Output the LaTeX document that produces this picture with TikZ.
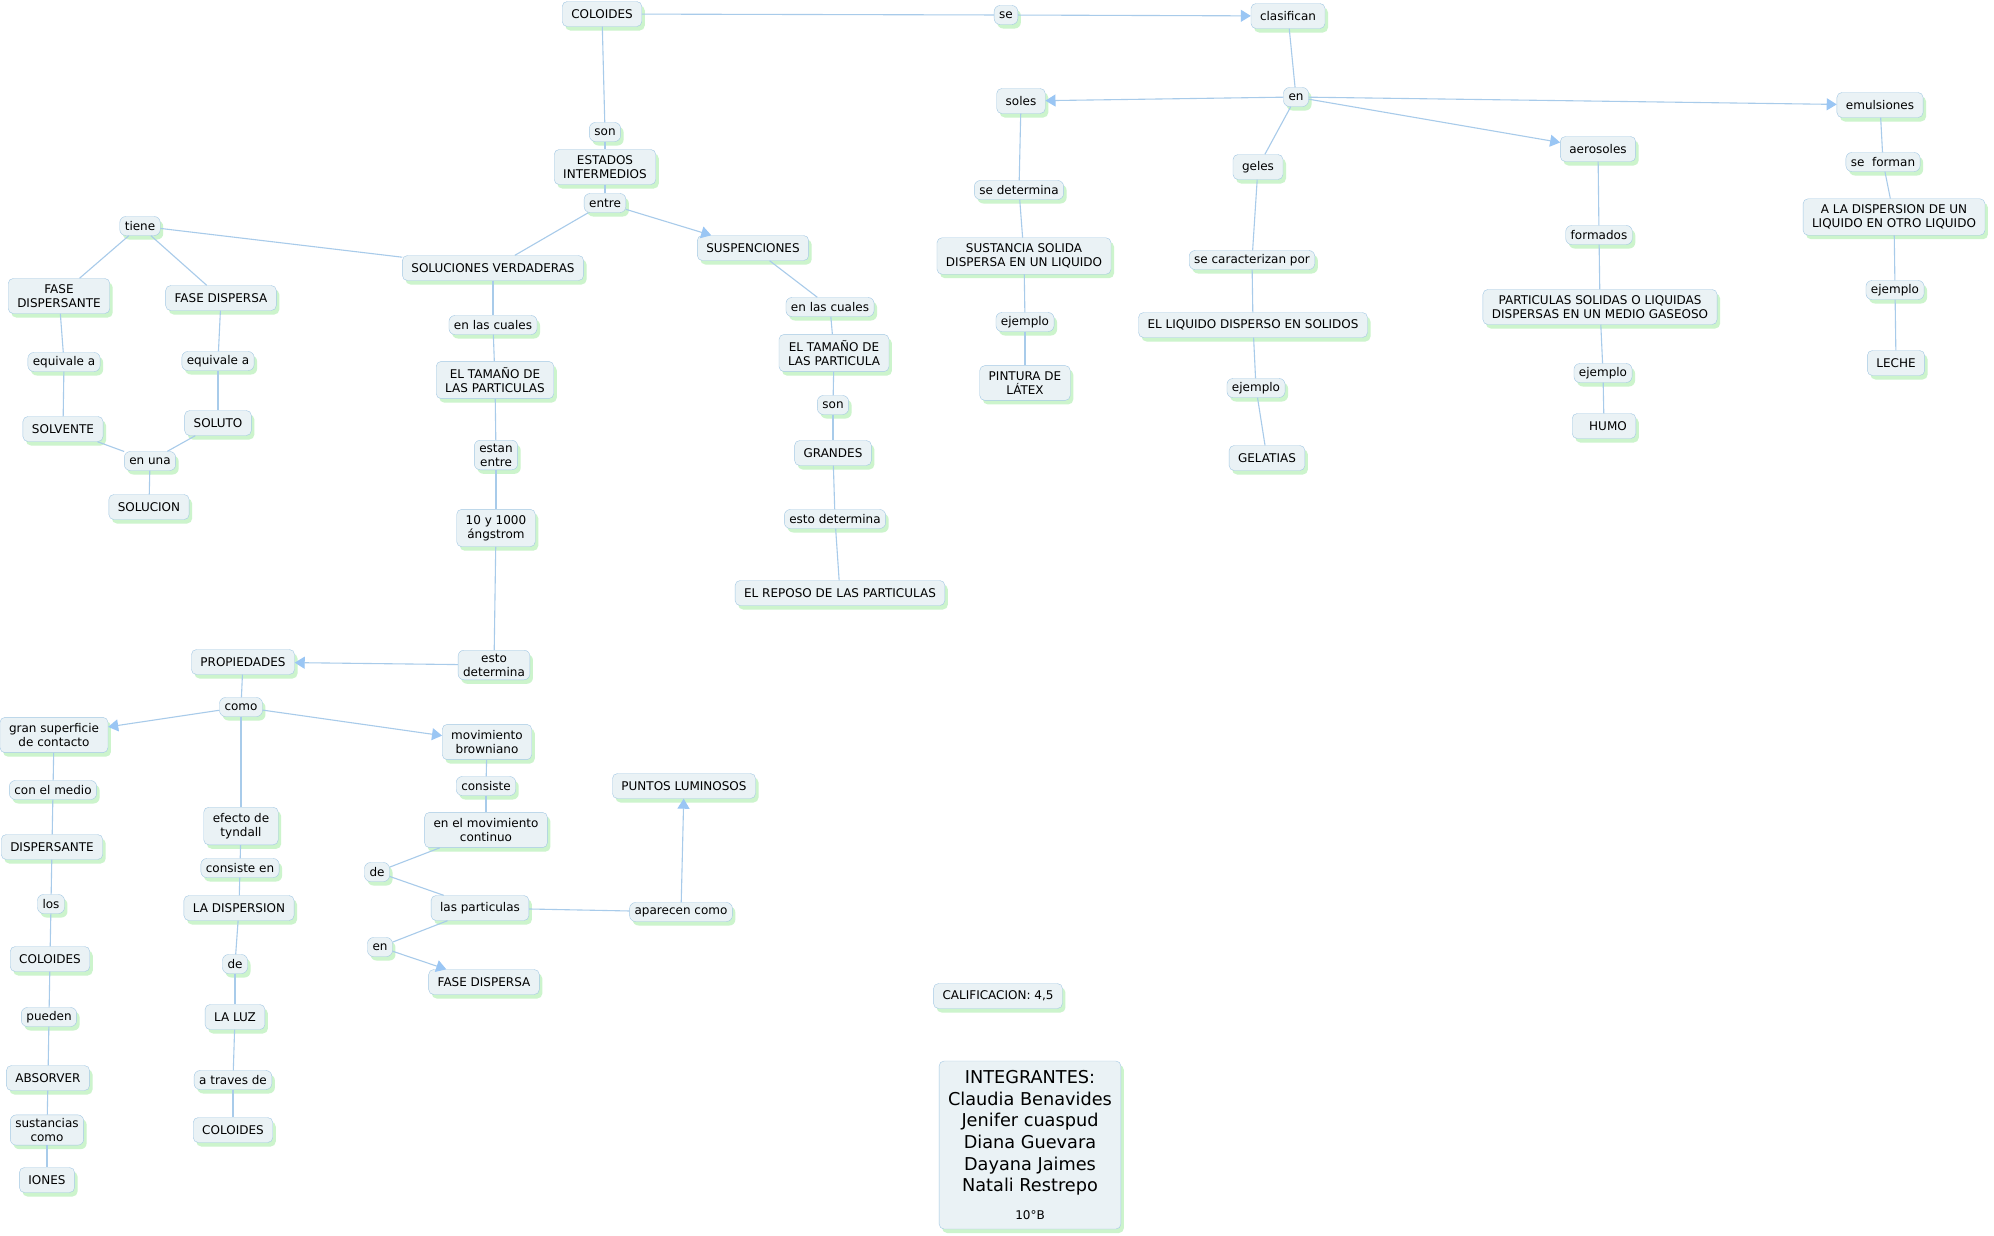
\documentclass[tikz,border=0pt]{standalone}
\usepackage{fontspec}
\setmainfont{DejaVu Sans}
\usepackage{tikz}
\usetikzlibrary{arrows.meta,shadows}
\definecolor{cmapfill}{HTML}{EAF2F5}
\definecolor{cmapdraw}{HTML}{A3C8E4}
\definecolor{cmapshadow}{HTML}{CCF4CC}
\definecolor{cmapline}{HTML}{A8CBEA}
\definecolor{cmaptip}{HTML}{9AC6F4}

\begin{document}
\begin{tikzpicture}[
  x=1pt, y=-1pt,
  font=\fontsize{12}{14}\selectfont,
  concept/.style={draw=cmapdraw, fill=cmapfill, rounded corners=5pt, inner xsep=9pt, inner ysep=6pt, minimum height=25pt, align=center,
                  drop shadow={shadow xshift=3pt, shadow yshift=-4pt, fill=cmapshadow, opacity=1}},
  phrase/.style ={draw=cmapdraw, fill=cmapfill, rounded corners=6pt, inner xsep=5pt, inner ysep=3.5pt, minimum height=19pt, align=center,
                  drop shadow={shadow xshift=3pt, shadow yshift=-4pt, fill=cmapshadow, opacity=1}},
  link/.style   ={draw=cmapline, line width=1.1pt},
  arr/.style    ={link, -{Triangle[length=10pt, width=12pt, color=cmaptip]}},
]
  \path[use as bounding box, fill=white] (0,0) rectangle (1994,1235);

  % top branch
  \node[concept] (col)      at (602,14)   {COLOIDES};
  \node[phrase]  (se)       at (1006,15)  {se};
  \node[concept] (clas)     at (1288,16)  {clasifican};
  \node[phrase]  (son1)     at (605,132)  {son};
  \node[concept] (est)      at (605,167)  {ESTADOS\\INTERMEDIOS};
  \node[phrase]  (entre)    at (605,203)  {entre};
  \node[concept] (solv)     at (493,268)  {SOLUCIONES VERDADERAS};
  \node[concept] (susp)     at (753,248)  {SUSPENCIONES};

  % soluciones verdaderas
  \node[phrase]  (tiene)    at (140,226)  {tiene};
  \node[concept] (fdte)     at (59,296)   {FASE\\DISPERSANTE};
  \node[concept] (fdsa)     at (221,298)  {FASE DISPERSA};
  \node[phrase]  (eqa1)     at (64,362)   {equivale a};
  \node[phrase]  (eqa2)     at (218,361)  {equivale a};
  \node[concept] (solvente) at (63,429)   {SOLVENTE};
  \node[concept] (soluto)   at (218,423)  {SOLUTO};
  \node[phrase]  (enuna)    at (150,461)  {en una};
  \node[concept] (solucion) at (149,507)  {SOLUCION};
  \node[phrase]  (cuales1)  at (493,325)  {en las cuales};
  \node[concept] (tamsv)    at (495,380)  {EL TAMAÑO DE\\LAS PARTICULAS};
  \node[phrase]  (estan)    at (496,455)  {estan\\entre};
  \node[concept] (rango)    at (496,528)  {10 y 1000\\ángstrom};
  \node[phrase]  (det1)     at (494,665)  {esto\\determina};

  % suspenciones
  \node[phrase]  (cuales2)  at (830,307)  {en las cuales};
  \node[concept] (tamsu)    at (834,353)  {EL TAMAÑO DE\\LAS PARTICULA};
  \node[phrase]  (son2)     at (833,405)  {son};
  \node[concept] (grandes)  at (833,453)  {GRANDES};
  \node[phrase]  (det2)     at (835,519)  {esto determina};
  \node[concept] (reposo)   at (840,593)  {EL REPOSO DE LAS PARTICULAS};

  % propiedades
  \node[concept] (prop)     at (243,662)  {PROPIEDADES};
  \node[phrase]  (como)     at (241,707)  {como};
  \node[concept] (gran)     at (54,735)   {gran superficie\\de contacto};
  \node[concept] (tynd)     at (241,826)  {efecto de\\tyndall};
  \node[concept] (brown)    at (487,742)  {movimiento\\browniano};
  \node[phrase]  (medio)    at (53,790)   {con el medio};
  \node[concept] (dispte)   at (52,847)   {DISPERSANTE};
  \node[phrase]  (los)      at (51,904)   {los};
  \node[concept] (colb1)    at (50,959)   {COLOIDES};
  \node[phrase]  (pueden)   at (49,1017)  {pueden};
  \node[concept] (absor)    at (48,1078)  {ABSORVER};
  \node[phrase]  (sustc)    at (47,1130)  {sustancias\\como};
  \node[concept] (iones)    at (47,1180)  {IONES};
  \node[phrase]  (consen)   at (240,868)  {consiste en};
  \node[concept] (ladisp)   at (239,908)  {LA DISPERSION};
  \node[phrase]  (de2)      at (235,964)  {de};
  \node[concept] (luz)      at (235,1017) {LA LUZ};
  \node[phrase]  (traves)   at (233,1080) {a traves de};
  \node[concept] (colb2)    at (233,1130) {COLOIDES};
  \node[phrase]  (consiste) at (486,786)  {consiste};
  \node[concept] (movcont)  at (486,830)  {en el movimiento\\continuo};
  \node[phrase]  (de1)      at (377,872)  {de};
  \node[concept] (parts)    at (480,908)  {las particulas};
  \node[phrase]  (en2)      at (380,947)  {en};
  \node[concept] (fdsb)     at (484,982)  {FASE DISPERSA};
  \node[phrase]  (aparecen) at (681,912)  {aparecen como};
  \node[concept] (puntos)   at (684,786)  {PUNTOS LUMINOSOS};

  % clasificacion
  \node[phrase]  (en1)      at (1296,97)  {en};
  \node[concept] (soles)    at (1021,101) {soles};
  \node[concept] (geles)    at (1258,167) {geles};
  \node[concept] (aero)     at (1598,149) {aerosoles};
  \node[concept] (emul)     at (1880,105) {emulsiones};
  \node[phrase]  (sedet)    at (1019,190) {se determina};
  \node[concept] (sust)     at (1024,256) {SUSTANCIA SOLIDA\\DISPERSA EN UN LIQUIDO};
  \node[phrase]  (ej1)      at (1025,322) {ejemplo};
  \node[concept] (pint)     at (1025,383) {PINTURA DE\\LÁTEX};
  \node[phrase]  (secar)    at (1252,260) {se caracterizan por};
  \node[concept] (liq)      at (1253,325) {EL LIQUIDO DISPERSO EN SOLIDOS};
  \node[phrase]  (ej2)      at (1256,388) {ejemplo};
  \node[concept] (gelat)    at (1267,458) {GELATIAS};
  \node[phrase]  (formados) at (1599,235) {formados};
  \node[concept] (partsol)  at (1600,307) {PARTICULAS SOLIDAS O LIQUIDAS\\DISPERSAS EN UN MEDIO GASEOSO};
  \node[phrase]  (ej3)      at (1603,373) {ejemplo};
  \node[concept] (humo)     at (1604,426) {\hspace{8pt}HUMO};
  \node[phrase]  (seform)   at (1883,162) {se\ \ forman};
  \node[concept] (aladisp)  at (1894,217) {A LA DISPERSION DE UN\\LIQUIDO EN OTRO LIQUIDO};
  \node[phrase]  (ej4)      at (1895,290) {ejemplo};
  \node[concept] (leche)    at (1896,363) {LECHE};

  \node[concept] (calif)    at (998,996)  {CALIFICACION: 4,5};
  \node[concept, minimum width=181pt, minimum height=168pt, font=\fontsize{17.7}{21.7}\selectfont] (integ) at (1030,1145)
    {INTEGRANTES:\\Claudia Benavides\\Jenifer cuaspud\\Diana Guevara\\Dayana Jaimes\\Natali Restrepo\\[6pt]{\fontsize{12}{14}\selectfont 10°B}};

  \draw[link] (col) -- (se);
  \draw[arr]  (se) -- (clas);
  \draw[link] (col) -- (son1);
  \draw[link] (son1) -- (est);
  \draw[link] (est) -- (entre);
  \draw[link] (entre) -- (solv);
  \draw[arr]  (entre) -- (susp);

  \draw[link] (solv) -- (tiene);
  \draw[link] (tiene) -- (fdte);
  \draw[link] (tiene) -- (fdsa);
  \draw[link] (fdte) -- (eqa1);
  \draw[link] (eqa1) -- (solvente);
  \draw[link] (fdsa) -- (eqa2);
  \draw[link] (eqa2) -- (soluto);
  \draw[link] (solvente) -- (enuna);
  \draw[link] (soluto) -- (enuna);
  \draw[link] (enuna) -- (solucion);
  \draw[link] (solv) -- (cuales1);
  \draw[link] (cuales1) -- (tamsv);
  \draw[link] (tamsv) -- (estan);
  \draw[link] (estan) -- (rango);
  \draw[link] (rango) -- (det1);
  \draw[arr]  (det1) -- (prop);

  \draw[link] (susp) -- (cuales2);
  \draw[link] (cuales2) -- (tamsu);
  \draw[link] (tamsu) -- (son2);
  \draw[link] (son2) -- (grandes);
  \draw[link] (grandes) -- (det2);
  \draw[link] (det2) -- (reposo);

  \draw[link] (prop) -- (como);
  \draw[arr]  (como) -- (gran);
  \draw[link] (como) -- (tynd);
  \draw[arr]  (como) -- (brown);
  \draw[link] (gran) -- (medio);
  \draw[link] (medio) -- (dispte);
  \draw[link] (dispte) -- (los);
  \draw[link] (los) -- (colb1);
  \draw[link] (colb1) -- (pueden);
  \draw[link] (pueden) -- (absor);
  \draw[link] (absor) -- (sustc);
  \draw[link] (sustc) -- (iones);
  \draw[link] (tynd) -- (consen);
  \draw[link] (consen) -- (ladisp);
  \draw[link] (ladisp) -- (de2);
  \draw[link] (de2) -- (luz);
  \draw[link] (luz) -- (traves);
  \draw[link] (traves) -- (colb2);
  \draw[link] (brown) -- (consiste);
  \draw[link] (consiste) -- (movcont);
  \draw[link] (movcont) -- (de1);
  \draw[link] (de1) -- (parts);
  \draw[link] (parts) -- (en2);
  \draw[arr]  (en2) -- (fdsb);
  \draw[link] (parts) -- (aparecen);
  \draw[arr]  (aparecen) -- (puntos);

  \draw[link] (clas) -- (en1);
  \draw[arr]  (en1) -- (soles);
  \draw[link] (en1) -- (geles);
  \draw[arr]  (en1) -- (aero);
  \draw[arr]  (en1) -- (emul);
  \draw[link] (soles) -- (sedet);
  \draw[link] (sedet) -- (sust);
  \draw[link] (sust) -- (ej1);
  \draw[link] (ej1) -- (pint);
  \draw[link] (geles) -- (secar);
  \draw[link] (secar) -- (liq);
  \draw[link] (liq) -- (ej2);
  \draw[link] (ej2) -- (gelat);
  \draw[link] (aero) -- (formados);
  \draw[link] (formados) -- (partsol);
  \draw[link] (partsol) -- (ej3);
  \draw[link] (ej3) -- (humo);
  \draw[link] (emul) -- (seform);
  \draw[link] (seform) -- (aladisp);
  \draw[link] (aladisp) -- (ej4);
  \draw[link] (ej4) -- (leche);
\end{tikzpicture}
\end{document}
